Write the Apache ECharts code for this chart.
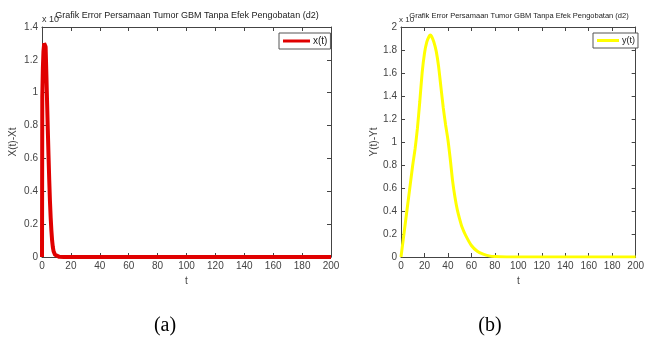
<!DOCTYPE html>
<html>
<head>
<meta charset="utf-8">
<script src="https://cdn.jsdelivr.net/npm/echarts@6/dist/echarts.min.js"></script>
<style>
  html, body { margin: 0; padding: 0; background: #fff; }
  #chart { width: 647px; height: 340px; }
</style>
</head>
<body>
<div id="chart"></div>
<script>
// (a) x(t) error, values in units of 10^-?
const tX = [0, 0.2, 0.6, 1, 1.5, 2, 2.5, 3, 3.5, 4, 4.5, 5, 5.5, 6, 6.5, 7, 7.5, 8, 9, 10, 12, 15, 20, 50, 100, 150, 200];
const xVals = [0, 0.98, 1.15, 1.25, 1.3, 1.31, 1.28, 1.12, 0.95, 0.78, 0.62, 0.47, 0.34, 0.24, 0.16, 0.1, 0.06, 0.035, 0.014, 0.005, 0.001, 0, 0, 0, 0, 0, 0];

// (b) y(t) error
const tY = [0, 2, 5, 8, 10, 12, 14, 16, 18, 20, 22, 24, 25, 26, 28, 30, 32, 34, 36, 38, 40, 42, 44, 46, 48, 50, 52, 55, 60, 65, 70, 75, 80, 90, 100, 150, 200];
const yVals = [0, 0.16, 0.4, 0.64, 0.8, 0.94, 1.12, 1.35, 1.6, 1.77, 1.87, 1.92, 1.93, 1.92, 1.87, 1.79, 1.66, 1.48, 1.3, 1.15, 1.02, 0.85, 0.66, 0.52, 0.41, 0.33, 0.26, 0.19, 0.1, 0.05, 0.025, 0.01, 0.004, 0.001, 0, 0, 0];

const titleText = "Grafik Error Persamaan Tumor GBM Tanpa Efek Pengobatan (d2)";
const font = "Liberation Sans, Arial, sans-serif";
const axisColor = "#444";

const myChart = echarts.init(document.getElementById("chart"));

function xAxes(gridIndex) {
    return [
        {
            gridIndex, type: "value", min: 0, max: 200, interval: 20,
            position: "bottom",
            name: "t", nameLocation: "middle", nameGap: 18,
            nameTextStyle: { color: axisColor, fontSize: 10, fontFamily: font },
            axisLine: { onZero: false, lineStyle: { color: axisColor, width: 1 } },
            axisTick: { inside: true, length: 4, lineStyle: { color: axisColor } },
            axisLabel: { color: axisColor, fontSize: 10, fontFamily: font, margin: 4 },
            splitLine: { show: false },
        },
        {
            gridIndex, type: "value", min: 0, max: 200, interval: 20,
            position: "top",
            axisLine: { onZero: false, lineStyle: { color: axisColor, width: 1 } },
            axisTick: { inside: true, length: 4, lineStyle: { color: axisColor } },
            axisLabel: { show: false },
            splitLine: { show: false },
        },
    ];
}

function yAxes(gridIndex, max, name, gap) {
    return [
        {
            gridIndex, type: "value", min: 0, max, interval: 0.2,
            position: "left",
            name, nameLocation: "middle", nameGap: gap,
            nameTextStyle: { color: axisColor, fontSize: 10, fontFamily: font },
            axisLine: { show: true, onZero: false, lineStyle: { color: axisColor, width: 1 } },
            axisTick: { show: true, inside: true, length: 4, lineStyle: { color: axisColor } },
            axisLabel: { color: axisColor, fontSize: 10, fontFamily: font, margin: 4 },
            splitLine: { show: false },
        },
        {
            gridIndex, type: "value", min: 0, max, interval: 0.2,
            position: "right",
            axisLine: { show: true, onZero: false, lineStyle: { color: axisColor, width: 1 } },
            axisTick: { show: true, inside: true, length: 4, lineStyle: { color: axisColor } },
            axisLabel: { show: false },
            splitLine: { show: false },
        },
    ];
}

const option = {
    animation: false,
    backgroundColor: "#fff",
    grid: [
        { left: 42, top: 27, width: 289, height: 230 },
        { left: 401, top: 27, width: 236, height: 230 },
    ],
    xAxis: [...xAxes(0), ...xAxes(1)],
    yAxis: [...yAxes(0, 1.4, "X(t)-Xt", 24), ...yAxes(1, 2, "Y(t)-Yt", 22)],
    legend: [
        {
            data: ["x(t)"], left: 279, top: 33,
            orient: "vertical",
            backgroundColor: "#fff", borderColor: "#555", borderWidth: 1,
            borderRadius: 0, padding: [3, 3, 3, 4],
            itemWidth: 27, itemHeight: 3, itemGap: 0,
            icon: "rect",
            textStyle: { color: "#222", fontSize: 10, fontFamily: font, padding: [0, 0, 0, -2] },
        },
        {
            data: ["y(t)"], left: 593, top: 33,
            orient: "vertical",
            backgroundColor: "#fff", borderColor: "#555", borderWidth: 1,
            borderRadius: 0, padding: [3, 3, 3, 4],
            itemWidth: 22, itemHeight: 3, itemGap: 0,
            icon: "rect",
            textStyle: { color: "#222", fontSize: 9, fontFamily: font, padding: [0, 0, 0, -2] },
        },
    ],
    series: [
        {
            name: "x(t)", type: "line", xAxisIndex: 0, yAxisIndex: 0,
            symbol: "none", color: "#e00000",
            lineStyle: { width: 4, color: "#e00000" },
            data: tX.map((t, i) => [t, xVals[i]]),
        },
        {
            name: "y(t)", type: "line", xAxisIndex: 2, yAxisIndex: 2,
            symbol: "none", color: "#ffff00", smooth: 0.2,
            lineStyle: { width: 3, color: "#ffff00" },
            data: tY.map((t, i) => [t, yVals[i]]),
        },
    ],
    graphic: [
        { type: "text", x: 187, y: 16, style: { text: titleText, fill: "#222", font: "9px " + font, align: "center", verticalAlign: "middle" } },
        { type: "text", x: 519, y: 16, style: { text: titleText, fill: "#222", font: "7.5px " + font, align: "center", verticalAlign: "middle" } },
        { type: "text", x: 42, y: 20, style: { text: "x 10", fill: "#333", font: "9px " + font, verticalAlign: "middle" } },
        { type: "text", x: 399, y: 20, style: { text: "x 10", fill: "#333", font: "8px " + font, verticalAlign: "middle" } },
        { type: "text", x: 165, y: 326, style: { text: "(a)", fill: "#000", font: "20px Liberation Serif, Times New Roman, serif", align: "center", verticalAlign: "middle" } },
        { type: "text", x: 490, y: 326, style: { text: "(b)", fill: "#000", font: "20px Liberation Serif, Times New Roman, serif", align: "center", verticalAlign: "middle" } },
    ],
};

myChart.setOption(option);
</script>
</body>
</html>
